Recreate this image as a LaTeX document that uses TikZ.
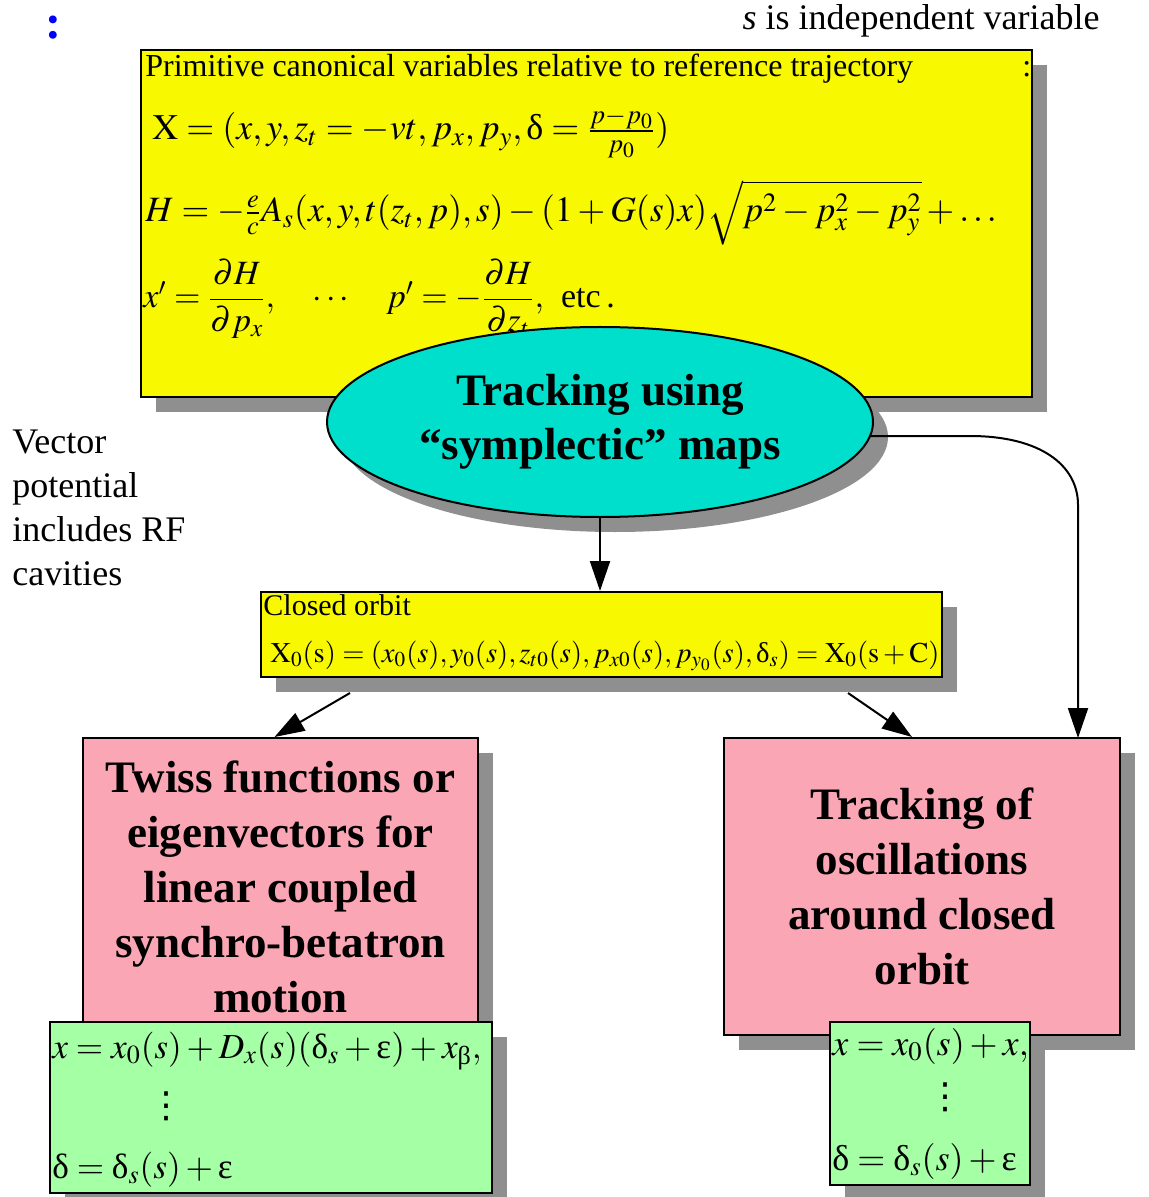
\documentclass[tikz,border=0pt]{standalone}
\usepackage{amsmath}
\usepackage{mathptmx}
\usepackage{fontspec}
\setmainfont{Liberation Serif}
\newfontfamily\symfont{DejaVu Sans}
\usetikzlibrary{shapes.geometric,shadows,arrows.meta}

\definecolor{boxyellow}{RGB}{248,248,0}
\definecolor{ovalcyan}{RGB}{0,222,204}
\definecolor{boxpink}{RGB}{250,166,180}
\definecolor{boxgreen}{RGB}{165,255,165}
\definecolor{shgray}{RGB}{143,143,143}

% upright greek letters
\newcommand{\gdel}{\text{δ}}
\newcommand{\geps}{\text{ε}}
\newcommand{\gbet}{\text{β}}
% vertical dots as one glyph
\newcommand{\vdts}{{\symfont ⋮}}

\begin{document}
\begin{tikzpicture}[x=0.5pt,y=-0.5pt]
\tikzstyle{shadowed} = [drop shadow={shadow xshift=7.5pt,shadow yshift=-7.5pt,fill=shgray,opacity=1}];
\tikzstyle{ybox} = [draw,line width=1pt,fill=boxyellow,inner sep=0,shadowed];
\tikzstyle{pbox} = [draw,line width=1pt,fill=boxpink,inner sep=0,shadowed,align=center,font=\fontsize{22.5pt}{27.5pt}\selectfont\bfseries];
\tikzstyle{gbox} = [draw,line width=1pt,fill=boxgreen,inner sep=0,shadowed];
\tikzstyle{oval} = [ellipse,draw,line width=1pt,fill=ovalcyan,inner sep=0,shadowed,align=center,font=\fontsize{22.5pt}{27pt}\selectfont\bfseries];
\tikzstyle{txt} = [inner sep=0,anchor=base west,font=\fontsize{16pt}{19pt}\selectfont];
\tikzstyle{eq} = [inner sep=0,anchor=base west,font=\fontsize{17.8pt}{21pt}\selectfont];
\tikzstyle{geq} = [inner sep=0,anchor=base west,font=\fontsize{17.6pt}{21pt}\selectfont];
\tikzstyle{dts} = [inner sep=0,font=\fontsize{18pt}{21pt}\selectfont];
\tikzstyle{arr} = [line width=1pt,-{Triangle[length=15pt,width=10pt]}];

\useasboundingbox (0,0) rectangle (1148,1197);

\node [inner sep=0,text=blue,font=\fontsize{24pt}{28pt}\selectfont\bfseries] (h1) at (53,28) {:};
\node [txt,anchor=base east,font=\fontsize{18pt}{22pt}\selectfont] (h2) at (1100,30) {\textit{s} is independent variable};

% canonical variables
\node [ybox,minimum width=445.5pt,minimum height=173.5pt] (v1) at (586.5,223.5) {};
\node [txt] (t1) at (145,77) {Primitive canonical variables relative to reference trajectory};
\node [txt] (t2) at (1022,77) {:};
\node [eq,font=\fontsize{18pt}{21pt}\selectfont] (t3) at (152,140) {$\mathrm{X} = (x, y, z_t = -vt, p_x, p_y, \gdel = \tfrac{p-p_0}{p_0})$};
\node [eq] (t4) at (145,222) {$H = -\tfrac{e}{c}A_s(x,y,t(z_t,p),s) - (1+G(s)x)\sqrt{p^2-p_x^2-p_y^2}+\ldots$};
\node [eq,font=\fontsize{17pt}{20pt}\selectfont] (t5) at (143,308) {$x' = \dfrac{\partial H}{\partial p_x},\quad \cdots \quad p' = -\dfrac{\partial H}{\partial z_t},$\ \ etc\,.};

\node [oval,minimum width=273pt,minimum height=95pt] (v2) at (600,422) {Tracking using\\“symplectic” maps};

\node [txt,anchor=west,align=left,font=\fontsize{18pt}{22pt}\selectfont] (t6) at (12,508) {Vector\\potential\\includes RF\\cavities};

% closed orbit
\node [ybox,minimum width=340.5pt,minimum height=42.5pt] (v3) at (601.5,634.5) {};
\node [txt,font=\fontsize{15pt}{18pt}\selectfont] (t7) at (263,615) {Closed orbit};
\node [eq,font=\fontsize{14.3pt}{17pt}\selectfont] (t8) at (270,662) {$\mathrm{X}_0(\mathrm{s}) = (x_0(s), y_0(s), z_{t0}(s), p_{x0}(s), p_{y_0}(s), \gdel_s) = \mathrm{X}_0(\mathrm{s}+\mathrm{C})$};

\node [pbox,minimum width=197.5pt,minimum height=148.5pt] (v4) at (280.5,886.5) {Twiss functions or\\eigenvectors for\\linear coupled\\synchro-betatron\\motion};
\node [pbox,minimum width=198pt,minimum height=148.5pt] (v5) at (922,886.5) {Tracking of\\oscillations\\around closed\\orbit};

\node [gbox,minimum width=221pt,minimum height=85.5pt] (v6) at (271,1107.5) {};
\node [geq] (t9) at (52,1058) {$x = x_0(s) + D_x(s)(\gdel_s + \geps) + x_\gbet,$};
\node [dts] (t10) at (166,1106) {\vdts};
\node [geq] (t11) at (52,1178) {$\gdel = \gdel_s(s) + \geps$};

\node [gbox,minimum width=100pt,minimum height=81.5pt] (v7) at (930,1103.5) {};
\node [geq,font=\fontsize{18pt}{21pt}\selectfont] (t12) at (832,1055) {$x = x_0(s) + x,$};
\node [dts] (t13) at (945,1097) {\vdts};
\node [geq,font=\fontsize{18pt}{21pt}\selectfont] (t14) at (832,1170) {$\gdel = \gdel_s(s) + \geps$};

\coordinate (c1) at (350,693);
\coordinate (c2) at (848,693);
\coordinate (c3) at (1078,738);
\draw [arr] (v2.south) -- (v2.south |- v3.north);
\draw [arr] (c1) -- ([xshift=-3pt]v4.north);
\draw [arr] (c2) -- ([xshift=-5pt]v5.north);
\draw [arr] (v2.-3) -- (970,436) .. controls (1040,436) and (1078,465) .. (1078,505) -- (c3);
\end{tikzpicture}
\end{document}
